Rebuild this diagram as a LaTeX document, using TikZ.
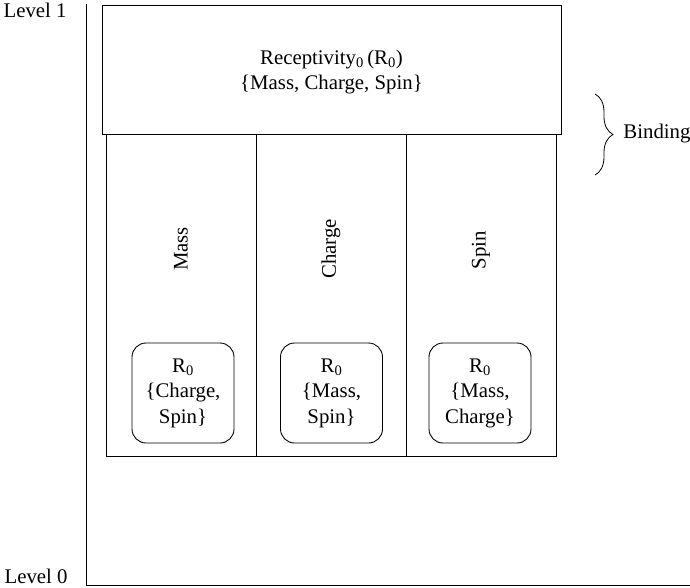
\documentclass[tikz,border=0pt]{standalone}
\usepackage{fontspec}
\setmainfont{Liberation Serif}
\usetikzlibrary{decorations.pathreplacing}
\begin{document}
\begin{tikzpicture}[x=1pt,y=-1pt,
  line width=0.9pt,
  every node/.style={font=\fontsize{20.8}{25.5}\selectfont, inner sep=0pt},
  frame/.style={draw, rectangle},
  subbox/.style={draw, rounded corners=14pt, minimum width=102pt, minimum height=100pt, align=center},
  lbl/.style={align=center},
  vlabel/.style={rotate=90}
]
\useasboundingbox (0,0) rectangle (690,587);

% level axis
\coordinate (axtop) at (86,4);
\coordinate (axcorner) at (86,585);
\coordinate (axend) at (690,585);
\draw (axtop) -- (axcorner) -- (axend);
\node[anchor=base east] (lv1) at (67,17) {Level 1};
\node[anchor=base east] (lv0) at (68,583) {Level 0};

% receptivity box
\node[frame, minimum width=459pt, minimum height=129pt, anchor=north west] (top) at (102,5) {};
\node[lbl] (toptxt) at (331.5,72) {Receptivity\textsubscript{0}\,(R\textsubscript{0})\\\{Mass, Charge, Spin\}};

% property columns
\node[frame, minimum width=150pt, minimum height=322pt, anchor=north west] (c1) at (106,134) {};
\node[frame, minimum width=150pt, minimum height=322pt, anchor=north west] (c2) at (256,134) {};
\node[frame, minimum width=150pt, minimum height=322pt, anchor=north west] (c3) at (406,134) {};

\node[vlabel] (m) at (181,249) {Mass};
\node[vlabel] (c) at (331,249) {Charge};
\node[vlabel] (s) at (481,250) {Spin};

\node[subbox] (b1) at (183,393) {R\textsubscript{0}\\\{Charge,\\Spin\}};
\node[subbox] (b2) at (331.5,393) {R\textsubscript{0}\\\{Mass,\\Spin\}};
\node[subbox] (b3) at (480,393) {R\textsubscript{0}\\\{Mass,\\Charge\}};

% binding brace
\coordinate (brtop) at (595,94);
\coordinate (brbot) at (595,175);
\draw[line width=0.8pt, decorate, decoration={brace, amplitude=18pt}] (brtop) -- (brbot);
\node[anchor=west] (bind) at (623,134) {Binding};
\end{tikzpicture}
\end{document}
